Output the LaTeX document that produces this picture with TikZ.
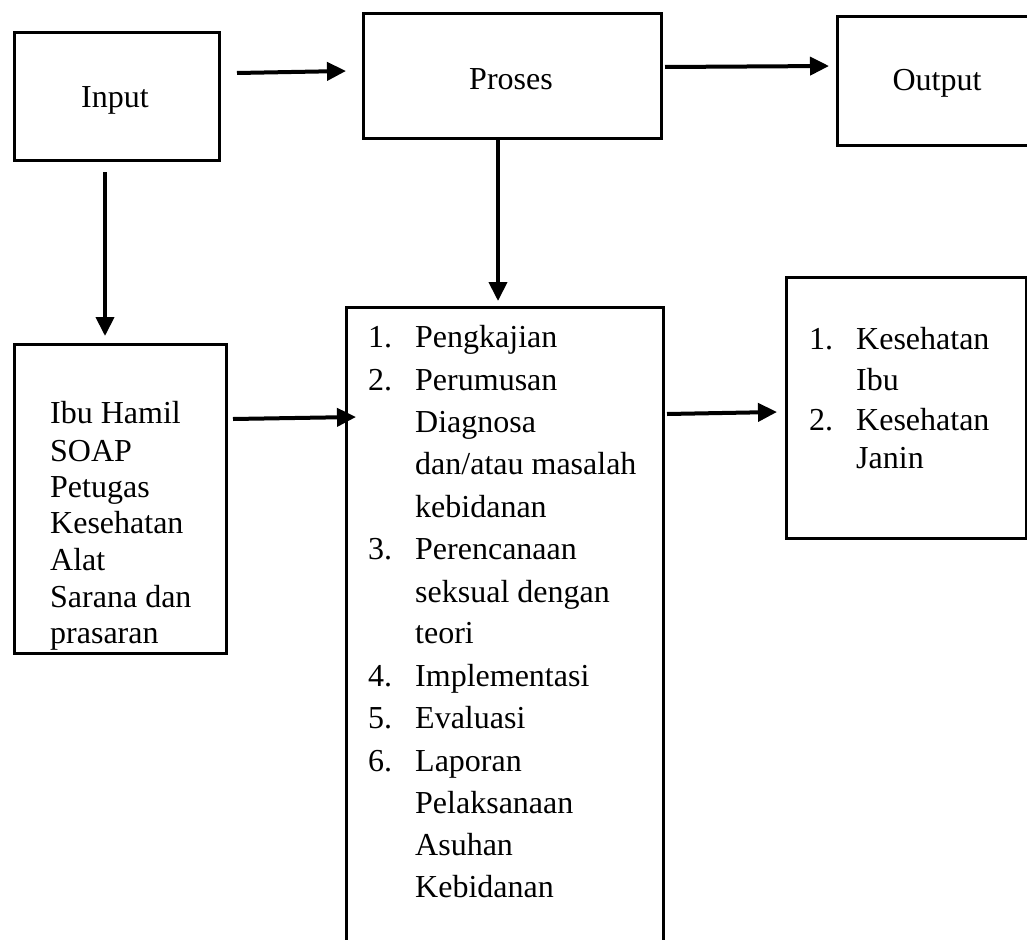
\documentclass[tikz,border=0pt]{standalone}
\usepackage{fontspec}
\setmainfont{Liberation Serif}
\usetikzlibrary{arrows.meta}
\tikzset{
  boxnode/.style={draw=black, line width=2.8pt, rectangle, inner sep=0pt, anchor=north west},
  txt/.style={inner sep=0pt, anchor=base west, font=\fontsize{32}{38}\selectfont},
  ctxt/.style={inner sep=0pt, anchor=base, font=\fontsize{32}{38}\selectfont},
  conn/.style={line width=4pt, -{Triangle[length=19pt,width=18pt]}}
}
\begin{document}
\begin{tikzpicture}[x=1pt,y=-1pt]
\useasboundingbox (0,0) rectangle (1027,939);
\clip (0,0) rectangle (1027,939);
% boxes
\node[boxnode, minimum width=205pt, minimum height=128pt] (inp) at (13,31) {};
\node[boxnode, minimum width=298pt, minimum height=125pt] (pro) at (362,12) {};
\node[boxnode, minimum width=220pt, minimum height=129pt] (out) at (836,15) {};
\node[boxnode, minimum width=212pt, minimum height=309pt] (ibu) at (13,343) {};
\node[boxnode, minimum width=317pt, minimum height=660pt] (mid) at (345,306) {};
\node[boxnode, minimum width=240pt, minimum height=261pt] (res) at (785,276) {};
% titles
\node[ctxt] (tinp) at (115,107) {Input};
\node[ctxt] (tpro) at (511,90) {Proses};
\node[ctxt] (tout) at (937,91) {Output};
% Ibu box text
\node[txt] (i1) at (50,423) {Ibu Hamil};
\node[txt] (i2) at (50,461) {SOAP};
\node[txt] (i3) at (50,497) {Petugas};
\node[txt] (i4) at (50,533) {Kesehatan};
\node[txt] (i5) at (50,570) {Alat};
\node[txt] (i6) at (50,607) {Sarana dan};
\node[txt] (i7) at (50,643) {prasaran};
% middle list
\node[txt] (n1) at (368,347) {1.};
\node[txt] (m1) at (415,347) {Pengkajian};
\node[txt] (n2) at (368,390) {2.};
\node[txt] (m2) at (415,390) {Perumusan};
\node[txt] (m3) at (415,432) {Diagnosa};
\node[txt] (m4) at (415,474) {dan/atau masalah};
\node[txt] (m5) at (415,517) {kebidanan};
\node[txt] (n3) at (368,559) {3.};
\node[txt] (m6) at (415,559) {Perencanaan};
\node[txt] (m7) at (415,602) {seksual dengan};
\node[txt] (m8) at (415,643) {teori};
\node[txt] (n4) at (368,686) {4.};
\node[txt] (m9) at (415,686) {Implementasi};
\node[txt] (n5) at (368,728) {5.};
\node[txt] (m10) at (415,728) {Evaluasi};
\node[txt] (n6) at (368,771) {6.};
\node[txt] (m11) at (415,771) {Laporan};
\node[txt] (m12) at (415,813) {Pelaksanaan};
\node[txt] (m13) at (415,855) {Asuhan};
\node[txt] (m14) at (415,897) {Kebidanan};
% right list
\node[txt] (r1n) at (809,349) {1.};
\node[txt] (r1) at (856,349) {Kesehatan};
\node[txt] (r2) at (856,390) {Ibu};
\node[txt] (r3n) at (809,430) {2.};
\node[txt] (r3) at (856,430) {Kesehatan};
\node[txt] (r4) at (856,468) {Janin};
% connector ends
\coordinate (a1s) at (237,73);  \coordinate (a1e) at (346,71);
\coordinate (a2s) at (665,67);  \coordinate (a2e) at (829,66);
\coordinate (a3s) at (105,172); \coordinate (a3e) at (105,336);
\coordinate (a4s) at (498,138); \coordinate (a4e) at (498,301);
\coordinate (a5s) at (233,419); \coordinate (a5e) at (356,417);
\coordinate (a6s) at (667,414); \coordinate (a6e) at (777,412);
\draw[conn] (a1s) -- (a1e);
\draw[conn] (a2s) -- (a2e);
\draw[conn] (a3s) -- (a3e);
\draw[conn] (a4s) -- (a4e);
\draw[conn] (a5s) -- (a5e);
\draw[conn] (a6s) -- (a6e);
\end{tikzpicture}
\end{document}
